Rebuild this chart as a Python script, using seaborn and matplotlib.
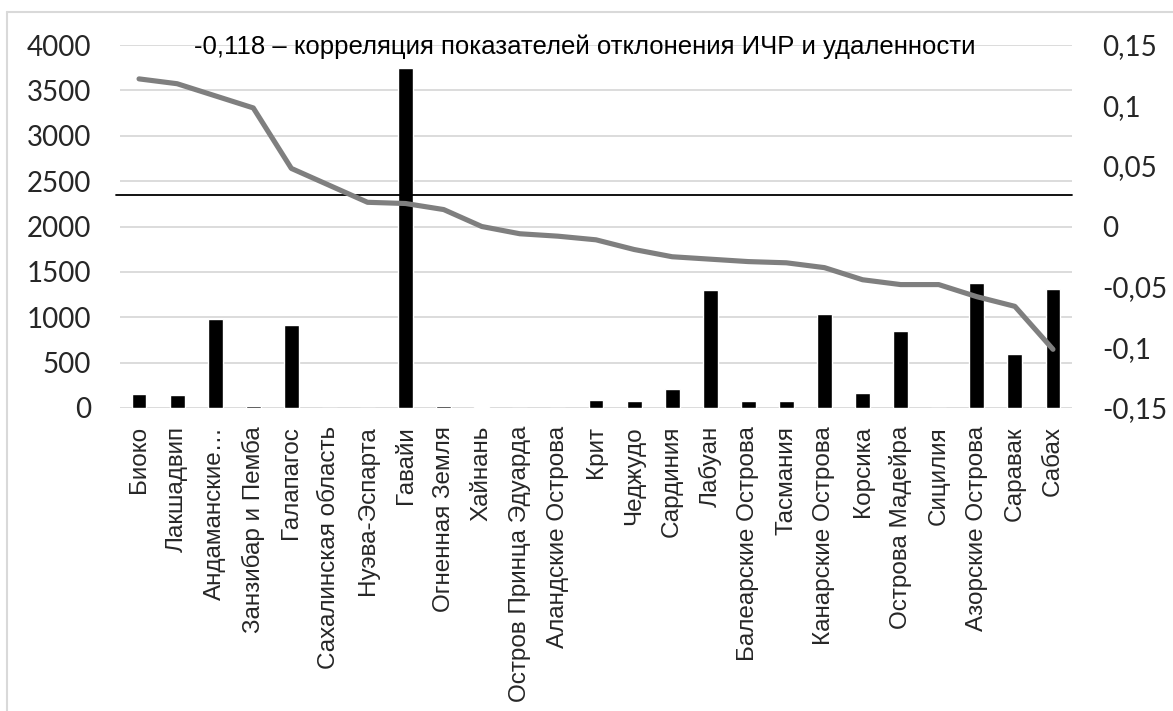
import numpy as np
import pandas as pd
import seaborn as sns
import matplotlib.pyplot as plt
from matplotlib.lines import Line2D
from matplotlib.ticker import FuncFormatter

# islands, distance (left axis) and HDI deviation (right axis)
islands = ["Биоко", "Лакшадвип", "Андаманские…", "Занзибар и Пемба", "Галапагос",
           "Сахалинская область", "Нуэва-Эспарта", "Гавайи", "Огненная Земля", "Хайнань",
           "Остров Принца Эдуарда", "Аландские Острова", "Крит", "Чеджудо", "Сардиния",
           "Лабуан", "Балеарские Острова", "Тасмания", "Канарские Острова", "Корсика",
           "Острова Мадейра", "Сицилия", "Азорские Острова", "Саравак", "Сабах"]
distance = [150, 140, 980, 25, 920, 2, 3, 3750, 20, 8, 5, 3, 90, 75, 205,
            1295, 80, 80, 1035, 165, 845, 0, 1375, 595, 1315]
deviation = [0.122, 0.118, 0.108, 0.098, 0.048, 0.034, 0.020, 0.019, 0.014, 0.000,
             -0.006, -0.008, -0.011, -0.019, -0.025, -0.027, -0.029, -0.030, -0.034,
             -0.044, -0.048, -0.048, -0.058, -0.066, -0.1015]
ref_level = 2347  # horizontal reference line, left axis units
note = "-0,118 – корреляция показателей отклонения ИЧР и удаленности"

left_ticks = list(range(0, 4001, 500))
right_ticks = [-0.15, -0.1, -0.05, 0, 0.05, 0.1, 0.15]

df = pd.DataFrame({"island": islands, "distance": distance, "deviation": deviation,
                   "pos": np.arange(len(islands))})

sns.set_theme(style="white")
plt.rcParams["font.family"] = ["Liberation Sans", "DejaVu Sans"]

fig = plt.figure(figsize=(11.73, 7.11), dpi=100)
ax = fig.add_axes([120 / 1173, 1 - 408 / 711, 952 / 1173, 363 / 711])

sns.barplot(data=df, x="island", y="distance", color="black", width=0.39,
            saturation=1, ax=ax, zorder=3)
ax.set_ylim(0, 4000)
ax.set_xlim(-0.5, len(islands) - 0.5)
ax.set_yticks(left_ticks)
ax.yaxis.grid(True, color="#d9d9d9", linewidth=1.3, zorder=0)
ax.set_axisbelow(True)
for s in ax.spines.values():
    s.set_visible(False)
ax.set_xlabel("")
ax.set_ylabel("")
ax.tick_params(axis="x", length=0, pad=13, labelsize=17.5, rotation=90)
ax.tick_params(axis="y", length=0, pad=21)
for lab in ax.get_yticklabels():
    lab.set_fontfamily("Lato")
    lab.set_fontsize(20)
ax.axhline(ref_level, xmin=-0.004, xmax=1, color="black", linewidth=1.3,
           zorder=5, clip_on=False)

ax2 = ax.twinx()
sns.lineplot(data=df, x="pos", y="deviation", color="#7f7f7f", linewidth=3.7,
             ax=ax2, zorder=4)
ax2.set_ylim(-0.15, 0.15)
ax2.set_yticks(right_ticks)
ax2.yaxis.set_major_formatter(FuncFormatter(lambda v, p: f"{v:g}".replace(".", ",")))
for s in ax2.spines.values():
    s.set_visible(False)
ax2.set_xlabel("")
ax2.set_ylabel("")
ax2.tick_params(axis="y", length=0, pad=22)
for lab in ax2.get_yticklabels():
    lab.set_fontfamily("Lato")
    lab.set_fontsize(20)
ax2.grid(False)

fig.text(585 / 1173, 1 - 47 / 711, note, ha="center", va="center", fontsize=18.5,
         color="black")

# light chart frame
fig.add_artist(Line2D([7 / 1173, 1], [1 - 12 / 711, 1 - 12 / 711],
                      color="#d9d9d9", linewidth=1.5, transform=fig.transFigure))
fig.add_artist(Line2D([7 / 1173, 7 / 1173], [0, 1 - 12 / 711],
                      color="#d9d9d9", linewidth=1.5, transform=fig.transFigure))

fig.savefig("out.png", dpi=100)
